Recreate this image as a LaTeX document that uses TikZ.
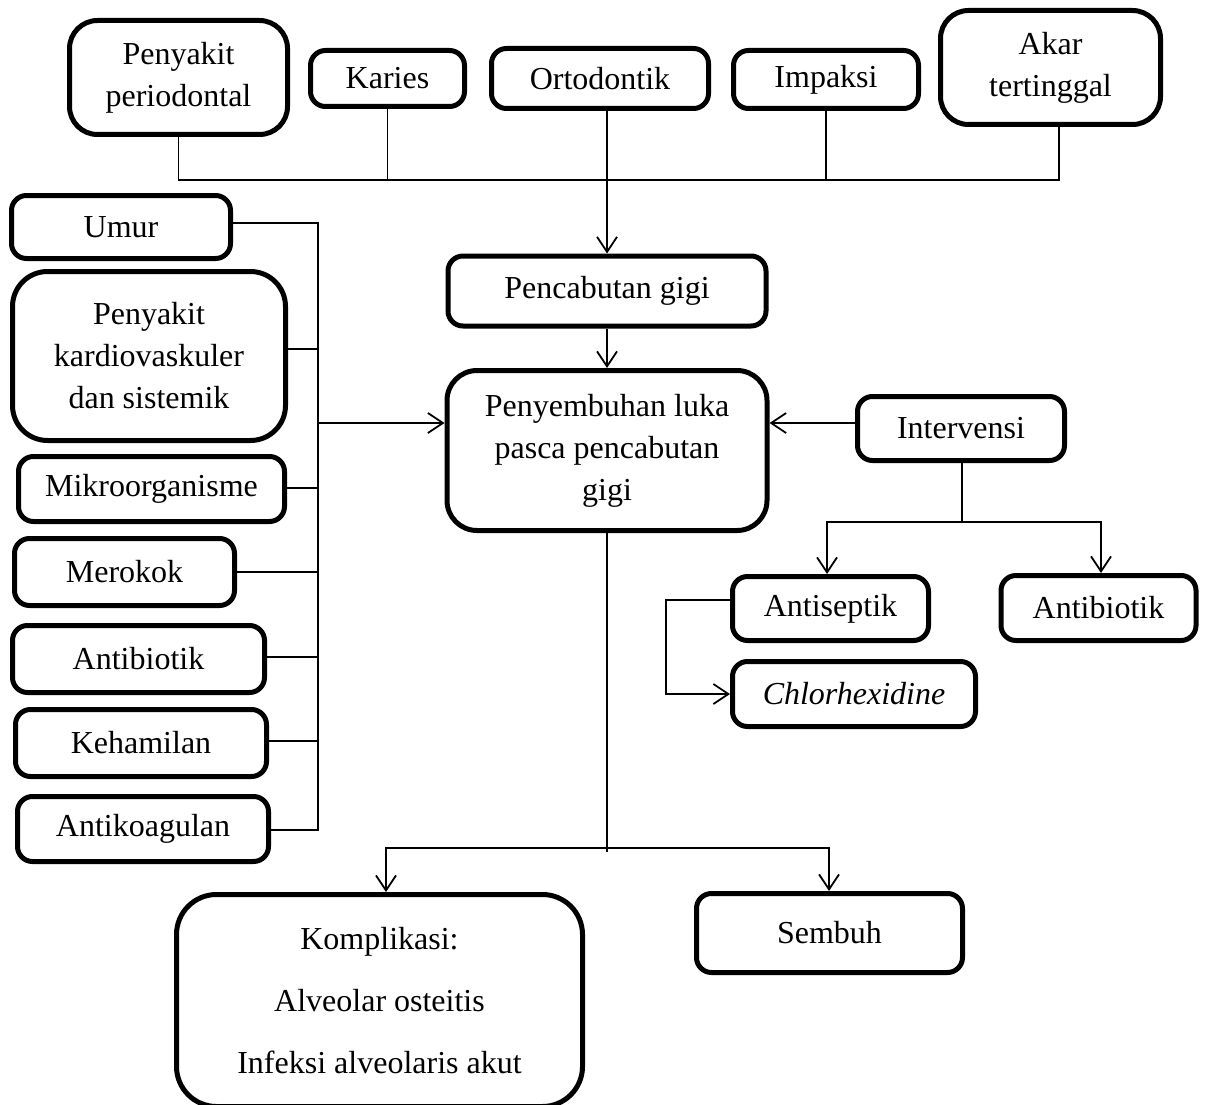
\documentclass[tikz,border=0pt]{standalone}
\usepackage{fontspec}
\setmainfont{Liberation Serif}
\usetikzlibrary{arrows.meta}
\begin{document}
\begin{tikzpicture}[x=1pt,y=-1pt,
  box/.style={draw, line width=5pt, rounded corners=15pt, inner sep=0pt, align=center,
              font=\fontsize{32}{42}\selectfont},
  conn/.style={line width=1.8pt},
  arr/.style={conn, -{Straight Barb[length=15pt,width=20pt]}}]
\useasboundingbox (0,0) rectangle (1205,1105);

% top row
\node[box, minimum width=218pt, minimum height=114pt, rounded corners=28pt] (pp) at (178.5,77.5) {Penyakit\\periodontal};
\node[box, minimum width=154pt, minimum height=56pt] (karies) at (387.5,78.5) {Karies};
\node[box, minimum width=217pt, minimum height=60pt] (orto) at (600,78.5) {Ortodontik};
\node[box, minimum width=185pt, minimum height=58pt] (impaksi) at (826,79.5) {Impaksi};
\node[box, minimum width=220pt, minimum height=114pt, rounded corners=28pt] (akar) at (1050.5,67.5) {Akar\\tertinggal};

% left column
\node[box, minimum width=219pt, minimum height=63pt] (umur) at (121,227) {Umur};
\node[box, minimum width=273pt, minimum height=169pt, rounded corners=35pt] (pk) at (149,356) {Penyakit\\kardiovaskuler\\dan sistemik};
\node[box, minimum width=266pt, minimum height=65pt] (mk) at (151.5,489) {Mikroorganisme};
\node[box, minimum width=220pt, minimum height=67pt] (mr) at (124.5,572) {Merokok};
\node[box, minimum width=252pt, minimum height=67pt] (abl) at (138.5,659) {Antibiotik};
\node[box, minimum width=251pt, minimum height=67pt] (kh) at (141,743) {Kehamilan};
\node[box, minimum width=251pt, minimum height=65pt] (ak) at (143,829) {Antikoagulan};

% centre
\node[box, minimum width=318pt, minimum height=70pt] (pc) at (607,291) {Pencabutan gigi};
\node[box, minimum width=320pt, minimum height=160pt, rounded corners=30pt] (ps) at (607,450.5) {Penyembuhan luka\\pasca pencabutan\\gigi};

% right
\node[box, minimum width=207pt, minimum height=64pt] (iv) at (961,428.5) {Intervensi};
\node[box, minimum width=196pt, minimum height=64pt] (as) at (830.5,608.5) {Antiseptik};
\node[box, minimum width=195pt, minimum height=65pt] (abr) at (1098.5,608) {Antibiotik};
\node[box, minimum width=243pt, minimum height=65pt] (chx) at (854,694) {\textit{Chlorhexidine}};

% bottom
\node[box, minimum width=406pt, minimum height=212pt, rounded corners=40pt] (km) at (379.5,1000.5) {Komplikasi:\\[20pt]Alveolar osteitis\\[20pt]Infeksi alveolaris akut};
\node[box, minimum width=266pt, minimum height=79pt] (sb) at (829.5,933) {Sembuh};

% top bus
\coordinate (bus) at (1059,180);
\draw[conn] (pp.south) |- (bus) -- (akar.south -| bus);
\draw[conn] (karies.south) -- (karies.south |- bus);
\draw[conn] (impaksi.south) -- (impaksi.south |- bus);
\draw[arr] (orto.south -| pc.north) -- (pc.north);
\draw[arr] (pc.south) -- (ps.north);

% left bus
\coordinate (b1) at (318,223);
\coordinate (b2) at (318,349);
\coordinate (b3) at (318,488);
\coordinate (b4) at (318,572);
\coordinate (b5) at (318,657);
\coordinate (b6) at (318,741);
\coordinate (b7) at (318,830);
\coordinate (lb) at (318,423);
\draw[conn] (umur.east |- b1) -- (b1) -- (b7) -- (ak.east |- b7);
\draw[conn] (pk.east |- b2) -- (b2);
\draw[conn] (mk.east |- b3) -- (b3);
\draw[conn] (mr.east |- b4) -- (b4);
\draw[conn] (abl.east |- b5) -- (b5);
\draw[conn] (kh.east |- b6) -- (b6);
\draw[arr] (lb) -- (lb -| ps.west);

% intervensi
\draw[arr] (iv.west |- lb) -- (ps.east |- lb);
\coordinate (ij) at (962,522);
\coordinate (il) at (827,522);
\coordinate (ir) at (1101,522);
\draw[conn] (iv.south -| ij) -- (ij);
\draw[arr] (ir) -- (il) -- (il |- as.north);
\draw[arr] (il) -- (ir) -- (ir |- abr.north);
\coordinate (cb) at (666,600);
\draw[arr] (as.west |- cb) -- (cb) |- (chx.west);

% bottom branches
\coordinate (bend) at (607,852);
\coordinate (bl) at (386,848);
\coordinate (br) at (829,848);
\draw[conn] (ps.south -| bend) -- (bend);
\draw[arr] (br) -- (bl) -- (bl |- km.north);
\draw[arr] (bl) -- (br) -- (br |- sb.north);
\end{tikzpicture}
\end{document}
